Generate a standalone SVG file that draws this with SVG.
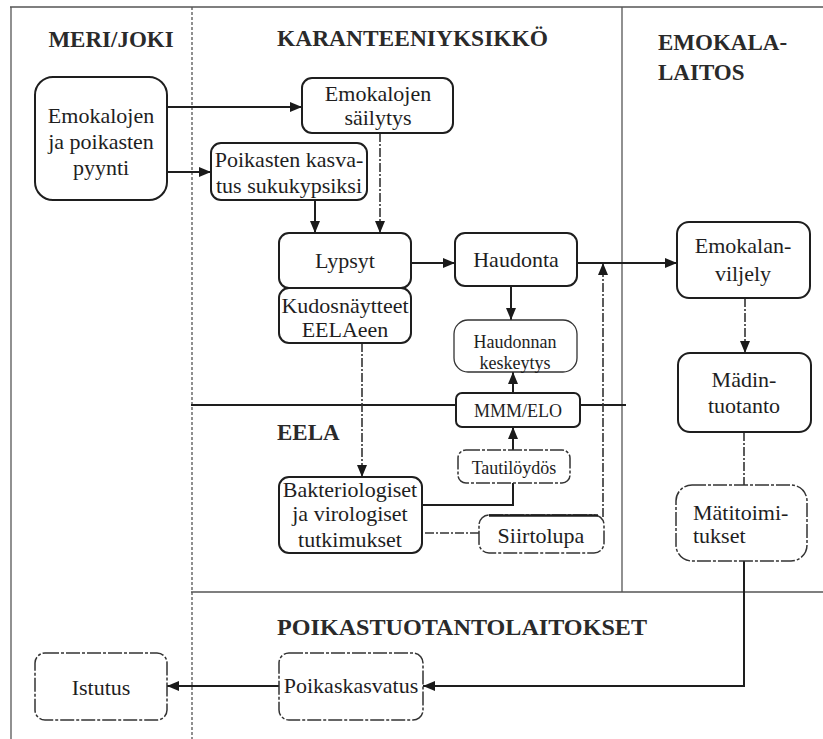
<svg xmlns="http://www.w3.org/2000/svg" width="823" height="739" viewBox="0 0 823 739">
<defs>
<marker id="ah" viewBox="0 0 12 10" refX="12" refY="5" markerWidth="12" markerHeight="10" markerUnits="userSpaceOnUse" orient="auto"><path d="M0,0 L12,5 L0,10 z" fill="#1a1a1a"/></marker>
<style>
.box{fill:#fff;stroke:#1e1e1e;stroke-width:2}
.thin{fill:#fff;stroke:#333;stroke-width:1.3}
.dbox{fill:#fff;stroke:#333;stroke-width:1.5;stroke-dasharray:14 2 3 2}
.t{font-family:"Liberation Serif","Times New Roman",serif;font-size:22px;fill:#1e1e1e;text-anchor:middle}
.l{text-anchor:start}
.s{font-size:18px}
.h{font-family:"Liberation Serif","Times New Roman",serif;font-size:23px;font-weight:bold;fill:#2a2a2a}
.c{fill:none;stroke:#1e1e1e;stroke-width:2}
.cd{fill:none;stroke:#333;stroke-width:1.6;stroke-dasharray:9 2 2 2}
.div{fill:none;stroke:#555;stroke-width:1.3}
</style>
</defs>
<rect width="823" height="739" fill="#fff"/>
<g id="dividers">
<path class="div" d="M10,7 H823"/>
<path class="div" d="M11,7 V739"/>
<path class="div" d="M192,7 V739" stroke-dasharray="3 2"/>
<path class="div" d="M622,7 V592" stroke="#666" stroke-width="1"/>
<path d="M191,405 H456 M580,405 H626" fill="none" stroke="#1e1e1e" stroke-width="2"/>
<path class="div" d="M191,592 H823"/>
</g>
<g id="headers">
<text class="h" x="111" y="47" text-anchor="middle">MERI/JOKI</text>
<text class="h" x="277" y="46" textLength="271" lengthAdjust="spacingAndGlyphs">KARANTEENIYKSIKKÖ</text>
<text class="h" x="658" y="50">EMOKALA-</text>
<text class="h" x="658" y="80">LAITOS</text>
<text class="h" x="277" y="440">EELA</text>
<text class="h" x="277" y="635" textLength="370" lengthAdjust="spacingAndGlyphs">POIKASTUOTANTOLAITOKSET</text>
</g>
<g id="connectors">
<path class="c" d="M167,107 H302" marker-end="url(#ah)"/>
<path class="c" d="M167,172 H211" marker-end="url(#ah)"/>
<path class="c" d="M315,200 V233" marker-end="url(#ah)"/>
<path class="cd" d="M380,133 V233" marker-end="url(#ah)"/>
<path class="c" d="M411,263 H455" marker-end="url(#ah)"/>
<path class="c" d="M577,263 H677" stroke-width="2.5" marker-end="url(#ah)"/>
<path class="c" d="M511,286 V320" marker-end="url(#ah)"/>
<path class="c" d="M513,393 V372" marker-end="url(#ah)"/>
<path class="c" d="M513,450 V427" marker-end="url(#ah)"/>
<path class="c" d="M422,505 H513 V483"/>
<path class="cd" d="M479,533 H422"/>
<path class="cd" d="M603,517 V263" marker-end="url(#ah)"/>
<path class="cd" d="M362,343 V477" marker-end="url(#ah)"/>
<path class="cd" d="M745,298 V353" marker-end="url(#ah)"/>
<path class="cd" d="M744,432 V485"/>
<path class="c" d="M744,561 V686 H423" marker-end="url(#ah)"/>
<path class="c" d="M279,686 H167" marker-end="url(#ah)"/>
</g>
<g id="pyynti">
<rect class="box" x="35" y="77" width="132" height="123" rx="18"/>
<text class="t" x="101" y="123">Emokalojen</text>
<text class="t" x="101" y="149">ja poikasten</text>
<text class="t" x="101" y="175">pyynti</text>
</g>
<g id="sailytys">
<rect class="box" x="302" y="78" width="151" height="55" rx="10"/>
<text class="t" x="378" y="101">Emokalojen</text>
<text class="t" x="378" y="125">säilytys</text>
</g>
<g id="kasvatus">
<rect class="box" x="211" y="143" width="156" height="57" rx="10"/>
<text class="t" x="289" y="167">Poikasten kasva-</text>
<text class="t" x="289" y="193">tus sukukypsiksi</text>
</g>
<g id="lypsyt">
<rect class="box" x="279" y="233" width="132" height="55" rx="10"/>
<text class="t" x="345" y="268">Lypsyt</text>
</g>
<g id="kudos">
<rect class="box" x="279" y="288" width="132" height="55" rx="10"/>
<text class="t" x="345" y="313">Kudosnäytteet</text>
<text class="t" x="345" y="337">EELAeen</text>
</g>
<g id="haudonta">
<rect class="box" x="455" y="233" width="122" height="53" rx="10"/>
<text class="t" x="516" y="267">Haudonta</text>
</g>
<g id="keskeytys">
<rect class="thin" x="454" y="320" width="123" height="52" rx="14"/>
<text class="t s" x="515" y="348">Haudonnan</text>
<text class="t s" x="515" y="369">keskeytys</text>
</g>
<g id="mmm">
<rect class="box" x="456" y="393" width="124" height="34" rx="6"/>
<text class="t s" x="518" y="417">MMM/ELO</text>
</g>
<g id="tauti">
<rect class="dbox" x="458" y="450" width="112" height="33" rx="8"/>
<text class="t s" x="514" y="474">Tautilöydös</text>
</g>
<g id="bakteriologiset">
<rect class="box" x="279" y="477" width="143" height="76" rx="10"/>
<text class="t" x="350" y="497">Bakteriologiset</text>
<text class="t" x="350" y="521">ja virologiset</text>
<text class="t" x="350" y="547">tutkimukset</text>
</g>
<g id="siirtolupa">
<rect class="dbox" x="479" y="515" width="125" height="38" rx="10"/>
<path d="M489,515.5 H598" stroke="#1e1e1e" stroke-width="2.5" fill="none"/>
<text class="t" x="541" y="543">Siirtolupa</text>
</g>
<g id="emokalanviljely">
<rect class="box" x="677" y="222" width="133" height="76" rx="12"/>
<text class="t" x="743" y="253">Emokalan-</text>
<text class="t" x="743" y="281">viljely</text>
</g>
<g id="madintuotanto">
<rect class="box" x="678" y="353" width="133" height="79" rx="12"/>
<text class="t" x="744" y="387">Mädin-</text>
<text class="t" x="744" y="413">tuotanto</text>
</g>
<g id="matitoimitukset">
<rect class="dbox" x="676" y="485" width="131" height="76" rx="16"/>
<text class="t l" x="693" y="520">Mätitoimi-</text>
<text class="t l" x="693" y="543">tukset</text>
</g>
<g id="istutus">
<rect class="dbox" x="35" y="653" width="132" height="67" rx="10"/>
<text class="t" x="101" y="695">Istutus</text>
</g>
<g id="poikaskasvatus">
<rect class="dbox" x="279" y="653" width="144" height="67" rx="10"/>
<text class="t" x="351" y="693">Poikaskasvatus</text>
</g>
</svg>
